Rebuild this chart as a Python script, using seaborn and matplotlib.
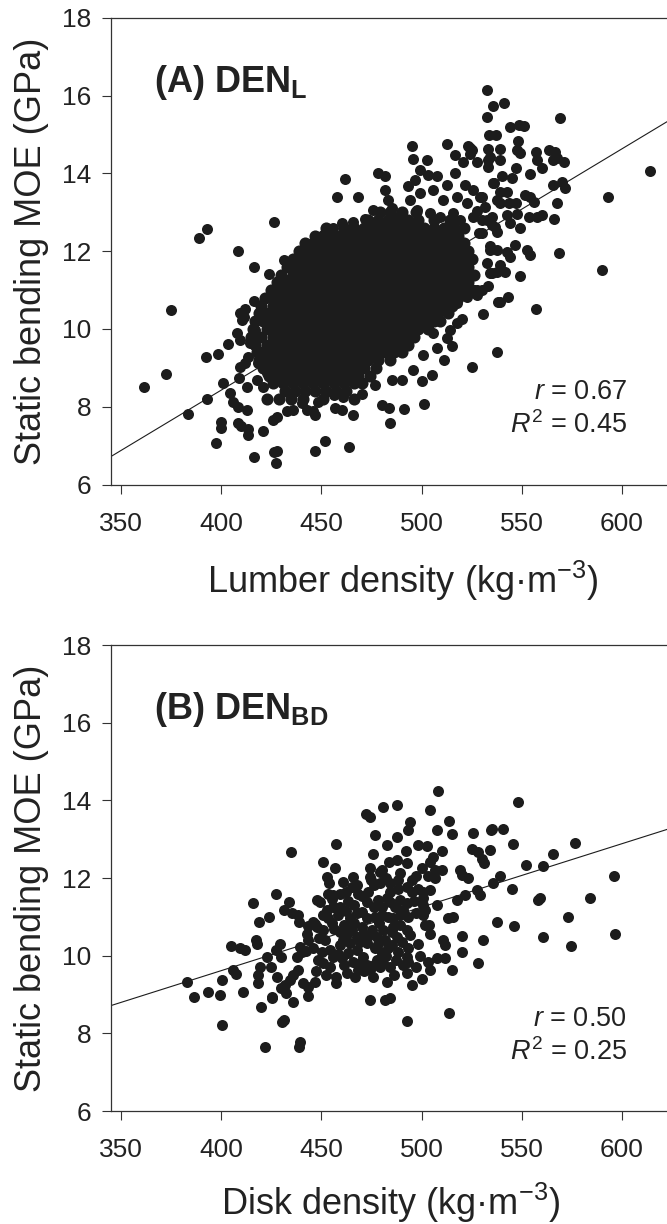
import numpy as np
import pandas as pd
import matplotlib
matplotlib.use("Agg")
import matplotlib.pyplot as plt
import seaborn as sns

# ---- panel A: lumber density vs static bending MOE ----
# dense centre of the cloud, read row by row: (MOE, [densities])
lumber_core_rows = [
    (8.2, [423, 429, 435, 441, 451, 466]),
    (8.4, [432, 437, 442, 447, 452, 457, 462]),
    (8.6, [426, 431, 436, 441, 446, 451, 456, 461, 466, 470]),
    (8.8, [424, 428, 433, 438, 443, 448, 453, 458, 463, 468, 474]),
    (9.0, [421, 426, 431, 436, 441, 446, 451, 456, 461, 466, 471, 477]),
    (9.2, [419, 423, 428, 433, 438, 443, 448, 453, 458, 463, 468, 473, 478, 484]),
    (9.4, [418, 421, 426, 431, 436, 441, 446, 451, 456, 461, 466, 471, 476, 481, 486, 490]),
    (9.6, [417, 423, 428, 433, 438, 443, 448, 453, 458, 463, 468, 473, 478, 483, 488, 493]),
    (9.8, [415, 420, 426, 431, 436, 441, 446, 451, 456, 461, 466, 471, 476, 481, 486, 491, 496]),
    (10.0, [416, 423, 428, 433, 438, 443, 448, 453, 458, 463, 468, 473, 478, 483, 488, 493, 498, 503]),
    (10.2, [417, 421, 426, 431, 436, 441, 446, 451, 456, 461, 466, 471, 476, 481, 486, 491, 496, 501, 506, 509]),
    (10.4, [419, 424, 428, 433, 438, 443, 448, 453, 458, 463, 468, 473, 478, 483, 488, 493, 498, 503, 508, 513]),
    (10.6, [420, 426, 431, 436, 441, 446, 451, 456, 461, 466, 471, 476, 481, 486, 491, 496, 501, 506, 511, 515]),
    (10.8, [422, 428, 433, 438, 443, 448, 453, 458, 463, 468, 473, 478, 483, 488, 493, 498, 503, 508, 513, 518]),
    (11.0, [425, 431, 436, 441, 446, 451, 456, 461, 466, 471, 476, 481, 486, 491, 496, 501, 506, 511, 516, 521, 525]),
    (11.2, [428, 433, 438, 443, 448, 453, 458, 463, 468, 473, 478, 483, 488, 493, 498, 503, 508, 513, 518, 523]),
    (11.4, [430, 436, 441, 446, 451, 456, 461, 466, 471, 476, 481, 486, 491, 496, 501, 506, 511, 516, 521, 526]),
    (11.6, [433, 438, 443, 448, 453, 458, 463, 468, 473, 478, 483, 488, 493, 498, 503, 508, 513, 518, 523]),
    (11.8, [436, 441, 446, 451, 456, 461, 466, 471, 476, 481, 486, 491, 496, 501, 506, 511, 516, 521, 525]),
    (12.0, [439, 443, 448, 453, 458, 463, 468, 473, 478, 483, 488, 493, 498, 503, 508, 513, 518, 523]),
    (12.2, [442, 446, 451, 456, 461, 466, 471, 476, 481, 486, 491, 496, 501, 506, 511, 516, 521]),
    (12.4, [447, 453, 458, 463, 468, 473, 478, 483, 488, 493, 498, 503, 508, 513, 518]),
    (12.6, [452, 461, 466, 471, 476, 481, 486, 491, 496, 501, 506, 511, 516, 521]),
    (12.8, [473, 478, 483, 488, 493, 498, 506, 514]),
    (13.0, [479, 484, 490, 497]),
]

# scattered points around the centre: (density, MOE)
lumber_points = [
    (361.3, 8.52), (372.2, 8.84), (375.0, 10.49), (389.0, 12.33), (393.0, 12.57), (383.5, 7.81),
    (392.3, 9.29), (393.0, 8.20), (398.5, 9.35), (397.4, 7.08), (399.7, 7.62), (399.9, 7.45),
    (401.0, 8.60), (403.2, 9.61), (408.5, 12.01), (408.5, 7.59), (408.8, 8.73), (410.0, 7.50),
    (413.5, 7.42), (413.2, 7.27), (416.3, 11.59), (416.5, 6.70), (421.0, 7.38), (424.0, 11.41),
    (426.5, 6.85), (428.0, 6.86), (427.1, 6.55), (426.4, 12.74), (431.3, 11.77), (444.3, 12.16),
    (446.8, 6.87), (451.8, 7.12), (463.9, 6.97),
    (411.8, 10.51), (411.3, 10.30), (409.3, 10.40), (410.2, 10.23), (416.5, 10.72), (408.0, 9.89),
    (409.3, 9.72), (413.5, 9.29), (411.8, 9.12), (416.8, 9.97), (414.3, 9.63), (418.5, 9.12),
    (421.0, 8.52), (422.6, 8.86), (417.6, 8.69), (412.6, 8.52), (409.3, 9.03),
    (404.3, 8.35), (406.0, 8.13), (408.5, 8.00), (412.6, 7.92), (425.6, 7.66), (427.6, 7.75),
    (432.6, 7.88), (436.0, 7.92), (440.1, 8.09), (445.6, 7.88), (446.8, 7.79), (442.6, 7.92),
    (456.7, 7.96), (460.1, 7.92), (465.9, 7.79), (480.0, 8.05), (483.9, 7.96), (484.2, 7.58),
    (491.4, 7.94), (501.3, 8.06), (500.3, 8.65), (505.3, 8.81), (511.3, 9.20), (525.1, 9.03),
    (530.5, 10.39), (537.8, 9.42), (538.0, 10.70), (533.3, 11.11), (535.0, 11.43),
    (507.5, 9.52), (515.0, 9.55), (512.5, 9.76), (514.2, 9.97), (520.0, 10.26), (500.8, 9.33),
    (495.9, 8.95), (490.0, 8.69), (485.0, 8.69), (476.7, 8.56), (470.0, 8.32), (460.9, 8.26),
    (456.0, 8.30), (448.4, 8.13), (505.8, 9.89), (510.8, 10.49), (517.5, 10.15), (522.5, 10.83),
    (527.5, 11.00), (517.5, 10.66),
    (440.9, 11.69), (437.6, 11.43), (432.6, 11.26), (427.6, 11.00), (426.0, 10.75), (450.9, 12.42),
    (446.8, 11.86), (452.6, 12.03),
    (532.8, 16.13), (535.8, 15.74), (541.3, 15.80), (532.8, 15.44), (533.8, 14.99), (537.1, 14.99),
    (533.3, 14.62), (534.1, 14.43), (533.3, 14.17), (535.8, 13.76), (495.0, 14.70), (495.9, 14.36),
    (502.5, 14.34), (512.8, 14.76), (523.3, 14.70), (525.0, 14.60), (516.6, 14.47), (520.8, 14.30),
    (527.5, 14.30), (499.2, 14.09), (478.4, 14.02), (481.7, 13.92), (461.7, 13.85), (457.6, 13.38),
    (468.4, 13.40), (481.7, 13.57), (483.4, 13.32), (485.0, 13.10), (487.5, 12.89), (475.9, 13.06),
    (460.1, 12.73), (465.9, 12.76), (471.7, 12.82), (453.4, 12.46), (450.9, 12.37), (455.9, 12.59),
    (493.4, 13.68), (496.7, 13.83), (503.3, 13.96), (507.5, 13.92), (512.5, 13.70), (516.6, 14.00),
    (521.6, 13.70), (525.8, 13.57), (494.2, 13.32), (499.2, 13.49), (505.8, 13.57), (510.8, 13.32),
    (517.5, 13.40), (522.5, 13.23), (529.1, 13.40), (531.6, 13.14), (537.5, 13.32), (497.5, 13.06),
    (504.2, 12.97), (509.2, 12.89), (515.8, 12.97), (519.2, 12.80), (525.8, 12.89), (532.5, 12.80),
    (536.6, 12.63), (530.0, 12.46), (534.1, 12.12), (537.5, 12.03),
    (544.3, 15.20), (548.4, 15.24), (551.0, 15.22), (569.2, 15.43), (547.9, 14.82), (547.6, 14.60),
    (548.9, 14.53), (539.3, 14.62), (539.3, 14.34), (533.0, 14.34), (524.3, 14.65), (524.0, 14.49),
    (557.1, 14.56), (557.6, 14.34), (560.1, 14.13), (563.4, 14.60), (566.7, 14.56), (565.6, 14.34),
    (570.9, 14.30), (567.6, 14.39), (547.3, 14.15), (554.3, 13.98), (540.1, 13.92), (536.3, 13.76),
    (545.1, 13.87), (565.6, 13.70), (570.0, 13.79), (571.4, 13.62), (567.6, 13.25), (566.2, 12.82),
    (568.4, 11.96), (590.0, 11.52), (592.9, 13.39), (613.8, 14.06), (530.1, 13.40), (539.3, 13.53),
    (542.6, 13.53), (539.3, 13.23), (543.4, 13.23), (547.3, 13.25), (551.8, 13.44), (554.3, 13.40),
    (555.9, 13.27), (557.6, 12.89), (560.1, 12.93), (553.4, 12.89), (547.6, 12.96), (542.6, 12.93),
    (549.3, 12.59), (544.3, 12.72), (527.6, 13.02), (535.1, 12.89), (530.1, 12.80), (535.1, 12.67),
    (528.5, 12.46), (537.6, 12.50), (546.8, 12.16), (542.6, 11.99), (544.3, 11.86), (552.6, 12.03),
    (553.9, 11.90), (534.3, 12.03), (539.3, 11.65), (532.6, 11.69), (549.3, 11.35),
    (530.1, 11.00), (527.6, 10.87), (526.0, 11.00), (539.3, 10.70), (543.1, 10.83), (557.3, 10.51),
    (534.3, 11.43), (537.6, 11.47), (541.8, 11.47),
]
lumber_fit = (-3.97, 0.0310)      # intercept, slope
lumber_stats = ("0.67", "0.45")   # r, R^2

# ---- panel B: disk density vs static bending MOE ----
disk_points = [
    (383.0, 9.31), (386.5, 8.94), (393.5, 9.06), (399.3, 8.99), (400.2, 9.37), (400.2, 8.21),
    (411.0, 9.07), (404.6, 10.25), (409.3, 10.19), (411.8, 10.15), (405.6, 9.63), (407.3, 9.53),
    (416.0, 11.35), (419.0, 10.87), (424.0, 10.99), (417.3, 10.40), (418.0, 10.30), (419.3, 9.72),
    (418.5, 9.50), (418.5, 9.29), (419.6, 8.69), (421.8, 7.66), (427.3, 11.59), (422.6, 9.97),
    (424.6, 9.70), (427.3, 10.15), (429.3, 10.30), (427.6, 9.46), (425.1, 8.94), (434.0, 11.39),
    (431.3, 11.17), (435.1, 11.09), (438.4, 11.05), (438.9, 10.88), (434.6, 12.66), (431.8, 9.24),
    (434.3, 9.37), (430.1, 8.30), (431.5, 8.35), (439.3, 7.78), (438.6, 7.65), (436.0, 9.50),
    (437.6, 9.97), (440.1, 10.10), (436.0, 8.82), (443.4, 8.97), (442.6, 10.57), (447.6, 11.43),
    (449.3, 11.39), (450.9, 12.42), (452.6, 12.03), (453.9, 11.86), (457.1, 12.87), (457.2, 9.29),
    (457.1, 9.46), (432.3, 9.03), (440.9, 9.29), (443.4, 9.20), (446.8, 9.31), (429.8, 9.97),
    (443.4, 10.76), (456.7, 12.25), (460.9, 11.90), (462.2, 11.65), (429.6, 9.17), (425.4, 8.92),
    (446.6, 10.81), (438.1, 9.62), (442.4, 10.11), (453.0, 11.60), (459.3, 11.26),
    (476.7, 13.11), (487.9, 13.06), (493.4, 13.24), (507.5, 13.24), (515.0, 13.13),
    (475.5, 12.62), (492.2, 12.70), (498.3, 12.85), (502.5, 12.82), (510.0, 12.70), (505.8, 12.55),
    (504.2, 12.42), (474.2, 12.25), (483.9, 12.42), (487.9, 12.46), (492.5, 12.38), (500.0, 12.25),
    (510.0, 12.20), (519.1, 12.20), (465.9, 12.03), (474.2, 12.03), (474.6, 11.95), (479.2, 12.16),
    (489.2, 12.12), (495.0, 11.95), (506.7, 11.99), (459.2, 11.60), (455.9, 11.56), (467.5, 11.82),
    (468.4, 11.60), (476.0, 11.82), (479.2, 11.86), (484.2, 11.86), (488.4, 11.73), (484.2, 11.65),
    (492.5, 11.78), (495.0, 11.65), (498.3, 11.73), (500.8, 11.65), (504.2, 11.69), (473.4, 11.65),
    (472.5, 11.39), (455.9, 11.26), (458.4, 11.22), (452.6, 11.18), (478.4, 11.43), (482.5, 11.48),
    (484.2, 11.39), (480.0, 11.26), (489.2, 11.43), (492.5, 11.35), (490.8, 11.18), (500.5, 11.48),
    (500.8, 11.30), (501.7, 11.18), (507.5, 11.30), (517.5, 11.43), (450.9, 11.05), (453.4, 10.96),
    (455.1, 10.83), (464.2, 10.96), (467.5, 11.09), (470.0, 11.13), (472.5, 10.96), (476.7, 11.00),
    (480.0, 11.05), (483.4, 11.00), (485.9, 10.96), (489.2, 11.05), (493.4, 11.00), (500.8, 11.05),
    (501.7, 10.79), (513.3, 10.96), (515.8, 11.00), (445.9, 10.88), (447.6, 10.75), (443.4, 10.40),
    (450.9, 10.66), (451.8, 10.40), (459.2, 10.60), (460.9, 10.40), (459.2, 10.27), (465.1, 10.66),
    (467.5, 10.49), (470.0, 10.75), (470.9, 10.57), (475.0, 10.66), (477.5, 10.49), (480.9, 10.66),
    (481.7, 10.40), (485.9, 10.75), (487.5, 10.49), (485.0, 10.27), (489.2, 10.79), (492.5, 10.66),
    (494.2, 10.53), (493.4, 10.19), (492.5, 9.97), (493.4, 9.84), (492.5, 9.55), (503.7, 10.79),
    (504.2, 10.56), (510.8, 10.40), (511.6, 10.27), (515.0, 9.63), (503.3, 9.84), (507.5, 9.93),
    (511.6, 9.93), (504.2, 9.63), (439.3, 10.23), (454.2, 9.72), (455.9, 9.97), (460.0, 9.93),
    (463.4, 10.06), (465.9, 9.84), (469.2, 9.80), (470.9, 9.97), (472.5, 9.76), (474.2, 9.63),
    (477.5, 9.89), (480.0, 10.06), (480.9, 9.80), (479.2, 9.72), (484.2, 9.72), (482.5, 9.33),
    (474.2, 8.86), (481.7, 8.86), (484.2, 8.90), (495.0, 9.24), (464.2, 10.32), (472.5, 10.32),
    (476.7, 10.19), (467.5, 10.15), (462.6, 9.55), (466.7, 9.46), (475.9, 9.46), (468.4, 9.63),
    (472.2, 13.66), (474.2, 13.58), (480.9, 13.82), (487.9, 13.89), (504.2, 13.75), (548.3, 13.97),
    (494.2, 13.45), (513.5, 13.48), (525.5, 13.15), (534.6, 13.24), (540.8, 13.26), (545.8, 12.88),
    (525.0, 12.76), (528.3, 12.68), (530.0, 12.50), (531.1, 12.38), (534.1, 12.72), (551.9, 12.33),
    (560.4, 12.31), (480.0, 12.21), (506.7, 12.20), (465.0, 11.78), (520.0, 12.08), (523.3, 12.00),
    (527.5, 11.69), (521.6, 11.56), (535.8, 11.88), (539.1, 12.05), (544.9, 11.71), (558.3, 11.43),
    (559.1, 11.48), (537.5, 10.87), (546.1, 10.76), (560.4, 10.47), (520.0, 10.51), (530.5, 10.40),
    (520.0, 10.10), (528.3, 9.80), (492.5, 8.33), (513.7, 8.53),
    (535.0, 13.25), (576.6, 12.91), (565.4, 12.61), (529.1, 11.56), (596.2, 12.06), (584.0, 11.48),
    (572.9, 11.00), (574.4, 10.25), (596.5, 10.57), (508.2, 14.25), (482.7, 12.84),
    (455.0, 11.45), (458.0, 11.05), (462.0, 11.15), (461.0, 10.80), (466.0, 10.85), (469.0, 10.35),
    (473.0, 10.50), (478.0, 10.30), (483.0, 10.20), (488.0, 10.10), (490.0, 10.35), (487.0, 9.90),
    (482.0, 10.00), (476.0, 9.75), (471.0, 9.60), (461.0, 9.75), (458.0, 10.05), (463.0, 11.40),
    (466.0, 11.30), (470.0, 11.55), (476.0, 11.25), (486.5, 11.25), (488.0, 11.95), (482.0, 12.00),
    (497.0, 11.10), (496.0, 11.40), (497.0, 12.05), (503.0, 12.05), (498.0, 10.30), (499.0, 10.00),
    (446.0, 10.20), (448.5, 9.90), (450.5, 10.10), (447.5, 9.60), (452.0, 9.50), (449.0, 10.45),
    (454.0, 10.15), (451.0, 9.80), (456.0, 10.70), (462.5, 10.55), (478.5, 10.85), (485.0, 10.60),
    (490.5, 9.75), (497.0, 9.70), (500.0, 9.40), (486.0, 9.50),
]
disk_fit = (3.08, 0.01634)
disk_stats = ("0.50", "0.25")

x_ticks = [350, 400, 450, 500, 550, 600]
y_ticks = [6, 8, 10, 12, 14, 16, 18]
x_range = (345.1, 622.5)
y_range = (6, 18)

# flatten the core rows into a table for panel A
df_core = pd.DataFrame([(d, m) for m, row in lumber_core_rows for d in row],
                       columns=["density", "moe"])
df_a = pd.DataFrame(lumber_points, columns=["density", "moe"])
df_b = pd.DataFrame(disk_points, columns=["density", "moe"])

sns.set_style("ticks")
plt.rcParams["font.family"] = ["Liberation Sans", "DejaVu Sans"]
plt.rcParams["mathtext.fontset"] = "custom"
plt.rcParams["mathtext.rm"] = "Liberation Sans"
plt.rcParams["mathtext.it"] = "Liberation Sans:italic"
plt.rcParams["mathtext.bf"] = "Liberation Sans:bold"

ink = "#1c1c1c"
fig = plt.figure(figsize=(6.67, 12.24), dpi=100)
ax_a = fig.add_axes([0.167, 0.6041, 0.833, 0.3814])
ax_b = fig.add_axes([0.167, 0.0923, 0.833, 0.3807])


def draw_panel(ax, df, fit, stats, title, xlabel, xlabel_x, xlabel_y):
    sns.scatterplot(data=df, x="density", y="moe", ax=ax, color=ink, s=63,
                    linewidth=0, legend=False, zorder=3)
    xs = np.array(x_range)
    line = pd.DataFrame({"density": xs, "moe": fit[0] + fit[1] * xs})
    sns.lineplot(data=line, x="density", y="moe", ax=ax, color=ink, lw=0.8, zorder=2)

    ax.set_xlim(*x_range)
    ax.set_ylim(*y_range)
    ax.set_xticks(x_ticks)
    ax.set_yticks(y_ticks)
    ax.spines["right"].set_visible(False)
    for s in ("left", "bottom", "top"):
        ax.spines[s].set_linewidth(0.9)
        ax.spines[s].set_color("#333333")
    ax.tick_params(direction="out", length=6.5, width=0.8, color="#333333",
                   labelsize=19, labelcolor="#222222")
    ax.tick_params(axis="x", pad=13)
    ax.tick_params(axis="y", pad=8)

    ax.set_xlabel("")
    ax.set_ylabel("Static bending MOE (GPa)", fontsize=26, color="#222222")
    ax.yaxis.set_label_coords(-0.112, 0.5)
    ax.text(xlabel_x, xlabel_y, xlabel, transform=ax.transAxes, ha="center",
            va="baseline", fontsize=26, color="#222222")

    ax.text(0.077, 0.841, title, transform=ax.transAxes, ha="left", va="baseline",
            fontsize=26, color="#222222")
    ax.text(0.928, 0.183, r"$r$ = " + stats[0], transform=ax.transAxes, ha="right",
            va="baseline", fontsize=19.5, color="#222222")
    ax.text(0.928, 0.110, r"$R^2$ = " + stats[1], transform=ax.transAxes, ha="right",
            va="baseline", fontsize=19.5, color="#222222")


# the overplotted centre of panel A is drawn a touch larger so it closes up solid
sns.scatterplot(data=df_core, x="density", y="moe", ax=ax_a, color=ink, s=76,
                linewidth=0, legend=False, zorder=3)
draw_panel(ax_a, df_a, lumber_fit, lumber_stats, r"$\mathbf{(A)\ DEN_L}$",
           r"Lumber density (kg·m$^{-3}$)", 0.524, -0.233)
draw_panel(ax_b, df_b, disk_fit, disk_stats, r"$\mathbf{(B)\ DEN_{BD}}$",
           r"Disk density (kg·m$^{-3}$)", 0.503, -0.223)

fig.savefig("out.png", dpi=100)
